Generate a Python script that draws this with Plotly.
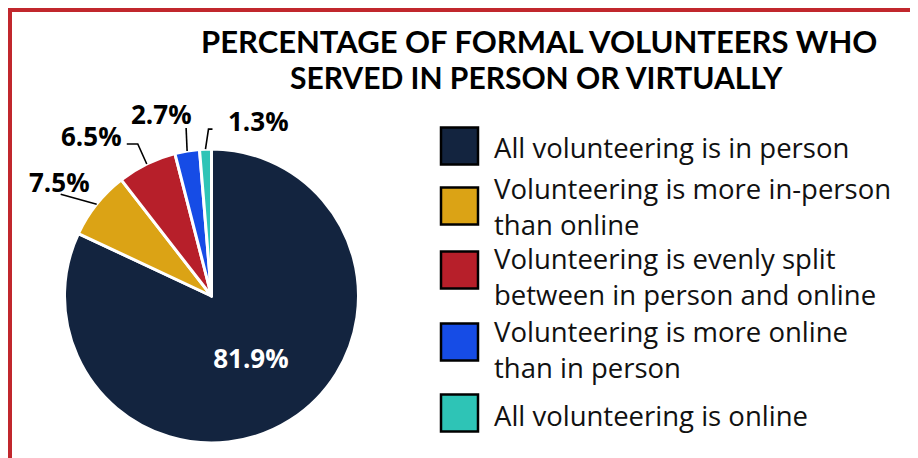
import plotly.graph_objects as go
import math

# ---- data ----
labels = [
    "All volunteering is in person",
    "Volunteering is more in-person<br>than online",
    "Volunteering is evenly split<br>between in person and online",
    "Volunteering is more online<br>than in person",
    "All volunteering is online",
]
values = [81.9, 7.5, 6.5, 2.7, 1.3]
colors = ["#13243F", "#DBA315", "#B71F2A", "#164CE6", "#2EC4B6"]
title_lines = ["PERCENTAGE OF FORMAL VOLUNTEERS WHO", "SERVED IN PERSON OR VIRTUALLY"]

# ---- layout constants (pixels in the page) ----
W, H = 918, 458
OFF = 8  # page body margin
CX, CY, R = 211.5, 296.0, 147.0
FONT = "Open Sans"
TFONT = "Lato"

def px(x):
    return (x - OFF) / W

def py(y):
    return 1 - (y - OFF) / H

fig = go.Figure()

textpos = ["inside"] + ["none"] * (len(values) - 1)
fig.add_trace(go.Pie(
    labels=labels,
    values=values,
    sort=False,
    direction="clockwise",
    rotation=0,
    marker=dict(colors=colors, line=dict(color="white", width=3)),
    texttemplate="%{value:.1f}%",
    textposition=textpos,
    insidetextorientation="horizontal",
    insidetextfont=dict(family=FONT, size=26, color="white", weight="bold"),
    hoverinfo="label+value",
    showlegend=False,
    domain=dict(x=[px(CX - R), px(CX + R)], y=[py(CY + R), py(CY - R)]),
))

annotations = []
shapes = []

# outside labels with leader lines, anchored at each slice's mid-angle edge point
text_off = [None, (-37, -22), (-55, -28), (-26, -37), (53, -28)]
leader = [None,
          [(0, 0), (-36, -10)],
          [(0, 0), (-9, -20), (-20, -20)],
          [(0, 0), (-1, -23)],
          [(0, 0), (3, -20), (7, -20)]]
total = sum(values)
cum = 0.0
for i, v in enumerate(values):
    mid = (cum + v / 2) / total * 2 * math.pi
    cum += v
    if text_off[i] is None:
        continue
    ex = CX + R * math.sin(mid)
    ey = CY - R * math.cos(mid)
    tx, ty = text_off[i]
    annotations.append(dict(
        x=px(ex + tx), y=py(ey + ty), xref="paper", yref="paper",
        xanchor="center", yanchor="middle",
        text=f"<b>{v:.1f}%</b>", showarrow=False,
        font=dict(family=FONT, size=26, color="black", weight="bold"),
    ))
    pts = leader[i]
    path = "M " + " L ".join(f"{px(ex + a):.5f},{py(ey + b):.5f}" for a, b in pts)
    shapes.append(dict(type="path", xref="paper", yref="paper", path=path,
                       line=dict(color="black", width=1.6)))

# custom legend
sq_centers = [146, 206, 270, 342, 413]
line_y = [[147], [188, 224], [258, 294], [331, 367], [415]]
SQ = 37
for i, lab in enumerate(labels):
    c = sq_centers[i]
    shapes.append(dict(
        type="rect", xref="paper", yref="paper",
        x0=px(441), x1=px(441 + SQ), y0=py(c + SQ / 2), y1=py(c - SQ / 2),
        fillcolor=colors[i], line=dict(color="black", width=2.5),
    ))
    for part, yy in zip(lab.split("<br>"), line_y[i]):
        annotations.append(dict(
            x=px(492), y=py(yy), xref="paper", yref="paper",
            xanchor="left", yanchor="middle", showarrow=False,
            text=part, font=dict(family=FONT, size=27.5, color="#111111"),
        ))

# title (two lines)
title_pos = [(539, 41, 31), (536, 77, 30)]
for line, (tx, ty, ts) in zip(title_lines, title_pos):
    annotations.append(dict(
        x=px(tx), y=py(ty), xref="paper", yref="paper",
        xanchor="center", yanchor="middle", showarrow=False,
        text=f"<b>{line}</b>",
        font=dict(family=TFONT, size=ts, color="black", weight=900),
    ))

# red frame
shapes.append(dict(
    type="rect", xref="paper", yref="paper",
    x0=px(10), x1=px(913), y0=-0.2, y1=py(10),
    line=dict(color="#C1272D", width=4), fillcolor="rgba(0,0,0,0)",
))

fig.update_layout(
    width=W, height=H,
    margin=dict(l=0, r=0, t=0, b=0),
    paper_bgcolor="white", plot_bgcolor="white",
    annotations=annotations, shapes=shapes,
    font=dict(family=FONT),
)

fig.write_html("out.html")
